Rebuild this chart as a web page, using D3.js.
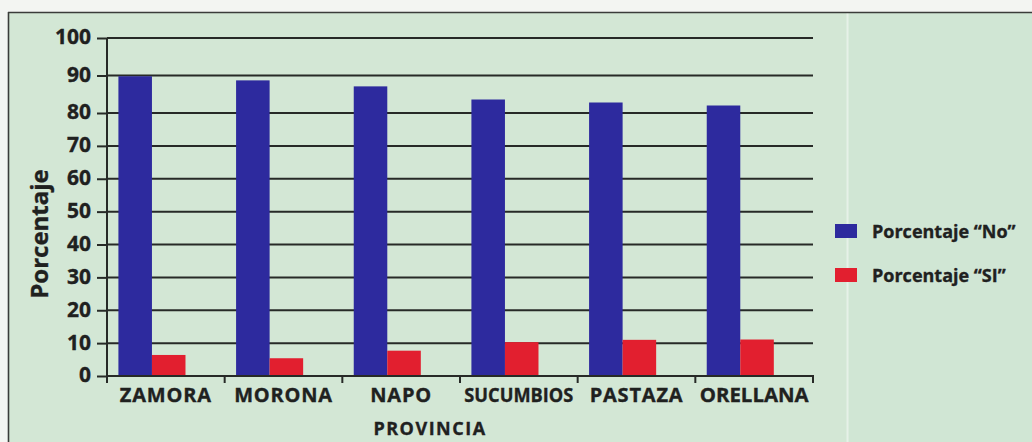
<!DOCTYPE html>
<html>
<head>
<meta charset="utf-8">
<script src="https://cdn.jsdelivr.net/npm/d3@7"></script>
<style>
  html, body { margin: 0; padding: 0; background: #f3f5f2; }
  svg { display: block; }
  text { font-family: "Open Sans", "Liberation Sans", sans-serif; font-weight: 700; fill: #1f211f;
         stroke: #1f211f; stroke-width: 0.35px; }
</style>
</head>
<body>
<svg id="chart" width="1032" height="442"></svg>
<script>
// Provinces and the share of "No" / "SI" answers in each (percent)
const provincias = ["ZAMORA", "MORONA", "NAPO", "SUCUMBIOS", "PASTAZA", "ORELLANA"];
const porcentajeNo = [89.8, 88.7, 87.1, 83.6, 82.8, 82.0];
const porcentajeSi = [6.4, 5.4, 7.7, 10.3, 11.0, 11.1];
const series = ["No", "SI"];
const seriesLabels = ["Porcentaje \u201CNo\u201D", "Porcentaje \u201CSI\u201D"];
const yTicks = [0, 10, 20, 30, 40, 50, 60, 70, 80, 90, 100];

const colors = { No: "#2d2a9e", SI: "#e21f2f" };
const gridColor = "#272a27";

const svg = d3.select("#chart");

// panel background and frame
svg.append("rect").attr("x", 9).attr("y", 13).attr("width", 1023).attr("height", 429).attr("fill", "#d3e7d5");
svg.append("rect").attr("x", 849).attr("y", 13).attr("width", 183).attr("height", 429).attr("fill", "#d0e6d4");
svg.append("line").attr("x1", 847.5).attr("x2", 847.5).attr("y1", 13).attr("y2", 442)
  .attr("stroke", "#e6f1e8").attr("stroke-width", 2);
svg.append("line").attr("x1", 8.5).attr("x2", 8.5).attr("y1", 12).attr("y2", 442).attr("stroke", "#3a3c3a").attr("stroke-width", 1.6);
svg.append("line").attr("x1", 8).attr("x2", 1032).attr("y1", 12.5).attr("y2", 12.5).attr("stroke", "#3a3c3a").attr("stroke-width", 1.6);

// scales
const x0 = d3.scaleBand().domain(provincias).range([107, 813]).padding(0);
const x1 = d3.scaleBand().domain(series)
  .range([x0.bandwidth() * 0.097, x0.bandwidth() * 0.667]).padding(0);
const y = d3.scaleLinear().domain([0, 80, 100]).range([376, 113, 38]);

// horizontal gridlines
svg.append("g").selectAll("line").data(yTicks.filter(d => d > 0)).join("line")
  .attr("x1", 107).attr("x2", 813)
  .attr("y1", d => y(d)).attr("y2", d => y(d))
  .attr("stroke", gridColor).attr("stroke-width", 2);

// bars
const rows = provincias.map((p, i) => ({ p, No: porcentajeNo[i], SI: porcentajeSi[i] }));
svg.append("g").selectAll("g").data(rows).join("g")
  .attr("transform", d => `translate(${x0(d.p)},0)`)
  .selectAll("rect").data(d => series.map(s => ({ s, v: d[s] }))).join("rect")
  .attr("x", d => x1(d.s))
  .attr("width", x1.bandwidth())
  .attr("y", d => y(d.v))
  .attr("height", d => y(0) - y(d.v))
  .attr("fill", d => colors[d.s]);

// y axis
const yAxis = d3.axisLeft(y).tickValues(yTicks).tickSize(10).tickPadding(6);
const gy = svg.append("g").attr("transform", "translate(107,0)").call(yAxis);
gy.select(".domain").remove();
gy.append("line").attr("x1", 0).attr("x2", 0).attr("y1", y(100)).attr("y2", y(0) + 7)
  .attr("stroke", gridColor).attr("stroke-width", 2);
gy.selectAll(".tick line").attr("stroke", gridColor).attr("stroke-width", 2);
gy.selectAll(".tick text").attr("font-size", 21).attr("fill", "#1f211f")
  .attr("dy", "0.28em").style("font-family", "'Open Sans', sans-serif").style("font-weight", 700);

// x axis line and band boundary ticks
svg.append("line").attr("x1", 107).attr("x2", 814).attr("y1", y(0)).attr("y2", y(0))
  .attr("stroke", gridColor).attr("stroke-width", 2.2);
const bounds = provincias.map(p => x0(p)).concat([x0.range()[1]]);
svg.append("g").selectAll("line").data(bounds.slice(1)).join("line")
  .attr("x1", d => d).attr("x2", d => d)
  .attr("y1", y(0)).attr("y2", y(0) + 7)
  .attr("stroke", gridColor).attr("stroke-width", 2);

// category labels; long names are squeezed to fit their band
const xAxis = d3.axisBottom(x0).tickSize(0).tickPadding(12);
const gx = svg.append("g").attr("transform", `translate(0,${y(0)})`).call(xAxis);
gx.select(".domain").remove();
gx.selectAll(".tick text").attr("font-size", 20).attr("fill", "#1f211f")
  .style("font-family", "'Open Sans', sans-serif").style("font-weight", 700)
  .style("letter-spacing", "0.8px")
  .each(function () {
    if (this.getComputedTextLength() > 112) {
      d3.select(this).style("letter-spacing", "0px")
        .attr("textLength", 109).attr("lengthAdjust", "spacingAndGlyphs");
    }
  });

// axis titles
svg.append("text").attr("x", 430).attr("y", 435).attr("text-anchor", "middle")
  .attr("font-size", 18).style("letter-spacing", "1.5px").text("PROVINCIA");
svg.append("text").attr("transform", "translate(48,234) rotate(-90)").attr("text-anchor", "middle")
  .attr("font-size", 24).text("Porcentaje");

// legend
const legend = svg.append("g").selectAll("g").data(series).join("g")
  .attr("transform", (d, i) => `translate(835,${224 + i * 44})`);
legend.append("rect").attr("width", 22).attr("height", 14).attr("fill", d => colors[d]);
legend.append("text").attr("x", 37).attr("y", 14).attr("font-size", 18)
  .text((d, i) => seriesLabels[i]);
</script>
</body>
</html>
